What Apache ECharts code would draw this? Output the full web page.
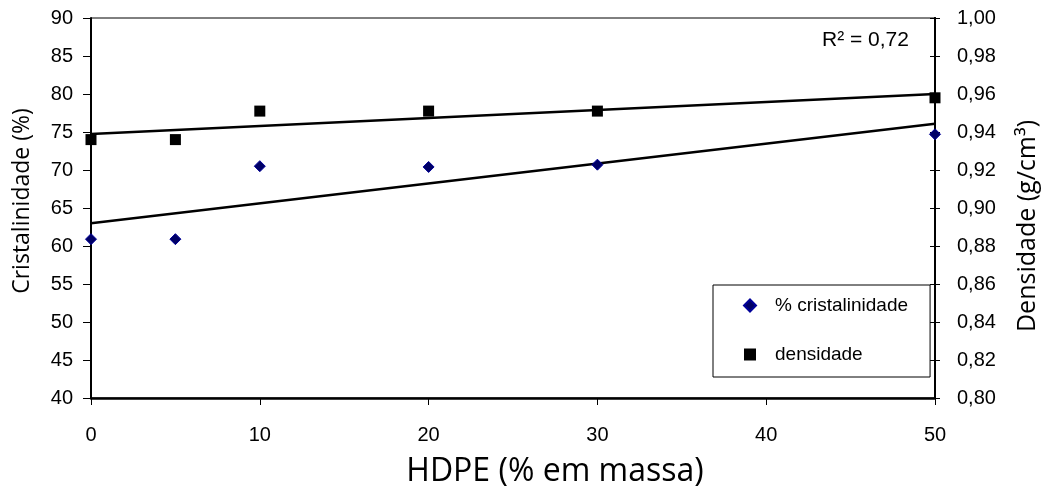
<!DOCTYPE html>
<html>
<head>
<meta charset="utf-8">
<script src="https://cdn.jsdelivr.net/npm/echarts@6/dist/echarts.min.js"></script>
<style>
  html, body { margin: 0; padding: 0; background: #ffffff; }
  #chart { width: 1048px; height: 502px; }
</style>
</head>
<body>
<div id="chart"></div>
<script>
// HDPE content (% by mass) of each blend
const hdpe = [0, 5, 10, 20, 30, 50];
// Measured crystallinity (%) and density (g/cm3)
const cristalinidade = [60.9, 60.9, 70.5, 70.4, 70.7, 74.7];
const densidade = [0.936, 0.936, 0.951, 0.951, 0.951, 0.958];
// Linear trend lines, value at 0 and at 50 % HDPE
const trendX = [0, 50];
const trendCristalinidade = [63.0, 76.1];
const trendDensidade = [0.939, 0.960];
const r2Label = 'R² = 0,72';

const pairs = (xs, ys) => xs.map((x, i) => [x, ys[i]]);
const tickFont = 'Liberation Sans, Arial, sans-serif';
const titleFont = '"Open Sans", "Noto Sans", sans-serif';

const chart = echarts.init(document.getElementById('chart'), null, { renderer: 'canvas' });

const rightAxisBase = {
  type: 'value', position: 'right', min: 0.8, max: 1.0, interval: 0.02,
  splitLine: { show: false },
  axisLine: { show: true, lineStyle: { color: '#000', width: 2 } }
};

chart.setOption({
  animation: false,
  backgroundColor: '#ffffff',
  grid: {
    left: 91, right: 108, top: 18, bottom: 104,
    show: true, borderColor: '#000', borderWidth: 1, backgroundColor: 'transparent'
  },
  xAxis: {
    type: 'value', min: 0, max: 50, interval: 10,
    name: 'HDPE (% em massa)', nameLocation: 'middle', nameGap: 58,
    nameTextStyle: { fontFamily: titleFont, fontSize: 32, color: '#000', padding: [0, 0, 0, 84] },
    axisLine: { show: true, onZero: false, lineStyle: { color: '#000', width: 2.5 } },
    axisTick: { show: true, inside: false, length: 7, lineStyle: { color: '#000', width: 1 } },
    axisLabel: { fontFamily: tickFont, fontSize: 20, color: '#000', margin: 27 },
    splitLine: { show: false }
  },
  yAxis: [
    {
      type: 'value', position: 'left', min: 40, max: 90, interval: 5,
      name: 'Cristalinidade (%)', nameLocation: 'middle', nameGap: 57, nameRotate: 90,
      nameTextStyle: { fontFamily: titleFont, fontSize: 23, color: '#000', padding: [0, 0, 0, 14] },
      axisLine: { show: true, lineStyle: { color: '#000', width: 2 } },
      axisTick: { show: true, inside: false, length: 8, lineStyle: { color: '#000', width: 1 } },
      axisLabel: { fontFamily: tickFont, fontSize: 20, color: '#000', margin: 18 },
      splitLine: { show: false }
    },
    Object.assign({}, rightAxisBase, {
      name: 'Densidade (g/cm³)', nameLocation: 'middle', nameGap: 80, nameRotate: 90,
      nameTextStyle: { fontFamily: titleFont, fontSize: 25, color: '#000', padding: [0, 36, 0, 0] },
      axisTick: { show: true, inside: false, length: 5, lineStyle: { color: '#000', width: 1 } },
      axisLabel: {
        fontFamily: tickFont, fontSize: 20, color: '#000', margin: 22,
        formatter: v => v.toFixed(2).replace('.', ',')
      }
    }),
    // inner half of the right-hand ticks, so they cross the axis line
    Object.assign({}, rightAxisBase, {
      axisTick: { show: true, inside: true, length: 5, lineStyle: { color: '#000', width: 1 } },
      axisLabel: { show: false }
    })
  ],
  legend: {
    orient: 'vertical', left: 713, top: 285,
    data: ['% cristalinidade', 'densidade'],
    backgroundColor: '#fff', borderColor: '#000', borderWidth: 1, borderRadius: 0,
    padding: [11, 22, 13, 30],
    itemWidth: 12, itemHeight: 12, itemGap: 30,
    textStyle: { fontFamily: tickFont, fontSize: 19, color: '#000', padding: [0, 0, 0, 14] }
  },
  graphic: [
    {
      type: 'text', left: 822, top: 30, z: 10,
      style: { text: r2Label, fontFamily: tickFont, fontSize: 21, fill: '#000' }
    }
  ],
  series: [
    {
      name: 'trend-cristalinidade', type: 'line', yAxisIndex: 0,
      data: pairs(trendX, trendCristalinidade), symbol: 'none', silent: true,
      lineStyle: { color: '#000', width: 2.5 }, z: 2
    },
    {
      name: 'trend-densidade', type: 'line', yAxisIndex: 1,
      data: pairs(trendX, trendDensidade), symbol: 'none', silent: true,
      lineStyle: { color: '#000', width: 2.5 }, z: 2
    },
    {
      name: '% cristalinidade', type: 'scatter', yAxisIndex: 0,
      data: pairs(hdpe, cristalinidade), symbol: 'diamond', symbolSize: 11, clip: false,
      itemStyle: { color: '#000066', borderColor: '#000099', borderWidth: 1, opacity: 1 }, z: 5
    },
    {
      name: 'densidade', type: 'scatter', yAxisIndex: 1,
      data: pairs(hdpe, densidade), symbol: 'rect', symbolSize: 11, clip: false,
      itemStyle: { color: '#000', opacity: 1 }, z: 5
    }
  ]
});
</script>
</body>
</html>
